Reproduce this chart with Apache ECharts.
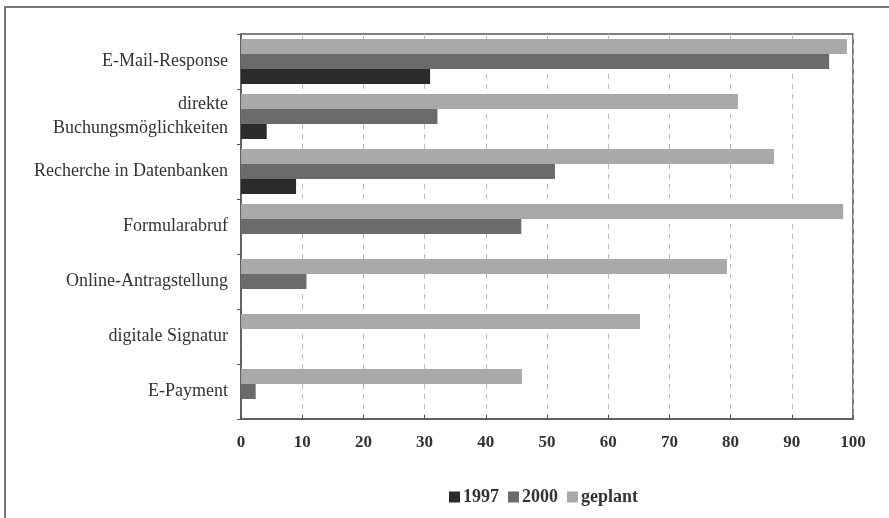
<!DOCTYPE html>
<html lang="de">
<head>
<meta charset="UTF-8">
<title>Online-Dienste</title>
<script src="https://cdn.jsdelivr.net/npm/echarts@6/dist/echarts.min.js"></script>
<style>
    html, body { margin: 0; padding: 0; background: #fff; }
    #container { width: 889px; height: 518px; }
</style>
</head>
<body>
<div id="container"></div>
<script type="text/javascript">
    // Kategorien von oben nach unten
    const categories = [
        'E-Mail-Response',
        'direkte\nBuchungsmöglichkeiten',
        'Recherche in Datenbanken',
        'Formularabruf',
        'Online-Antragstellung',
        'digitale Signatur',
        'E-Payment'
    ];
    const values1997 = [30.9, 4.2, 9.0, 0, 0, 0, 0];
    const values2000 = [96.1, 32.1, 51.3, 45.8, 10.7, 0, 2.4];
    const valuesGeplant = [99.0, 81.2, 87.1, 98.4, 79.4, 65.2, 45.9];
    const xTicks = [0, 10, 20, 30, 40, 50, 60, 70, 80, 90, 100];

    const serif = '"Liberation Serif", "DejaVu Serif", serif';

    const myChart = echarts.init(document.getElementById('container'), null, { renderer: 'canvas' });

    const option = {
        animation: false,
        graphic: [{
            type: 'rect',
            shape: { x: 5, y: 7, width: 920, height: 560 },
            style: { fill: 'none', stroke: '#777', lineWidth: 2 }
        }],
        legend: {
            data: ['1997', '2000', 'geplant'],
            icon: 'rect',
            left: 444,
            top: 483,
            itemWidth: 11,
            itemHeight: 11,
            itemGap: 9,
            textStyle: { fontFamily: serif, fontWeight: 'bold', fontSize: 18, color: '#333', padding: [0, 0, 0, -2] }
        },
        grid: { left: 241, top: 34, right: 36, bottom: 99, show: true, borderColor: '#555', borderWidth: 1.5 },
        xAxis: {
            type: 'value',
            min: xTicks[0],
            max: xTicks[xTicks.length - 1],
            interval: 10,
            axisLine: { show: true, lineStyle: { color: '#555', width: 1.5 } },
            axisTick: { show: true, inside: true, length: 4, lineStyle: { color: '#555' } },
            axisLabel: { fontFamily: serif, fontWeight: 'bold', fontSize: 17, color: '#333', margin: 15 },
            splitLine: { show: true, lineStyle: { color: '#bbb', type: [5, 5] } }
        },
        yAxis: {
            type: 'category',
            inverse: true,
            data: categories,
            axisLine: { show: true, lineStyle: { color: '#555', width: 1.5 } },
            axisTick: { show: true, length: 4, lineStyle: { color: '#555' } },
            axisLabel: { fontFamily: serif, fontSize: 18, color: '#333', margin: 13, lineHeight: 24, align: 'right' }
        },
        // Reihenfolge: geplant oben, 1997 unten im Band
        series: [
            { name: 'geplant', type: 'bar', data: valuesGeplant, barWidth: 15, barGap: '0%', itemStyle: { color: '#a9a9a9' } },
            { name: '2000', type: 'bar', data: values2000, barWidth: 15, barGap: '0%', itemStyle: { color: '#6b6b6b' } },
            { name: '1997', type: 'bar', data: values1997, barWidth: 15, barGap: '0%', itemStyle: { color: '#2b2b2b' } }
        ]
    };

    myChart.setOption(option);
    window.addEventListener('resize', myChart.resize);
</script>
</body>
</html>
